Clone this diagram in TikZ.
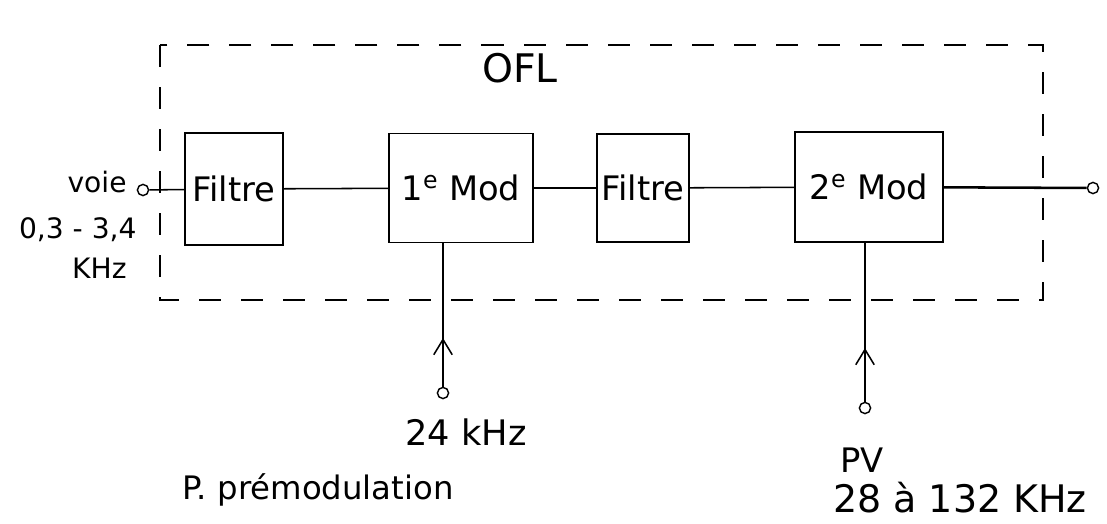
\documentclass[tikz,border=0pt]{standalone}
\usepackage{fontspec}
\setmainfont{DejaVu Sans}
\usetikzlibrary{arrows.meta}
\begin{document}
\begin{tikzpicture}[x=0.025cm,y=-0.025cm,>={Straight Barb[length=3.8mm,width=4.6mm]},line width=1.1pt,
    blk/.style={draw,inner sep=0pt,font=\fontsize{24}{28}\selectfont},
    term/.style={circle,draw,inner sep=0pt,minimum size=2.8mm,line width=1pt},
    lbl/.style={font=\fontsize{20}{24}\selectfont}]
    \useasboundingbox (0,0) rectangle (1107,524);
    % frame of the OFL
    \draw[dashed,dash pattern=on 0.55cm off 0.5cm] (160,45) rectangle (1043,300);
    \node[font=\fontsize{28}{32}\selectfont] (ofl) at (520,68) {OFL};
    % chain
    \node[blk,minimum width=2.45cm,minimum height=2.8cm] (F1) at (234,189) {Filtre};
    \node[blk,minimum width=3.6cm,minimum height=2.72cm] (M1) at (461,188) {1\textsuperscript{e} Mod};
    \node[blk,minimum width=2.3cm,minimum height=2.7cm] (F2) at (643,188) {Filtre};
    \node[blk,minimum width=3.7cm,minimum height=2.75cm] (M2) at (869,187) {2\textsuperscript{e} Mod};
    \node[term] (in) at (143,190) {};
    \node[term] (out) at (1093,188) {};
    \draw (in) -- (F1);
    \draw (F1) -- (M1);
    \draw (M1) -- (F2);
    \draw (F2) -- (M2);
    \draw[line width=1.8pt] (M2) -- (out);
    % carriers
    \node[term] (c1) at (443,393) {};
    \node[term] (c2) at (865,408) {};
    \draw (c1) -- (c1 |- M1.south);
    \draw[->] (c1) -- ++(0,-55);
    \draw (c2) -- (c2 |- M2.south);
    \draw[->] (c2) -- ++(0,-60);
    % labels
    \node[lbl,anchor=east] (voie) at (132,182) {voie};
    \node[lbl,anchor=east] (bw) at (142,230) {0,3 - 3,4};
    \node[lbl,anchor=east] (khz) at (132,268) {KHz};
    \node[lbl,font=\fontsize{25}{28}\selectfont] (f1) at (466,432) {24 kHz};
    \node[lbl,font=\fontsize{23}{26}\selectfont] (pp) at (318,490) {P. prémodulation};
    \node[lbl,font=\fontsize{24}{28}\selectfont] (pv) at (862,460) {PV};
    \node[lbl,font=\fontsize{27}{30}\selectfont] (f2) at (960,498) {28 à 132 KHz};
\end{tikzpicture}
\end{document}
